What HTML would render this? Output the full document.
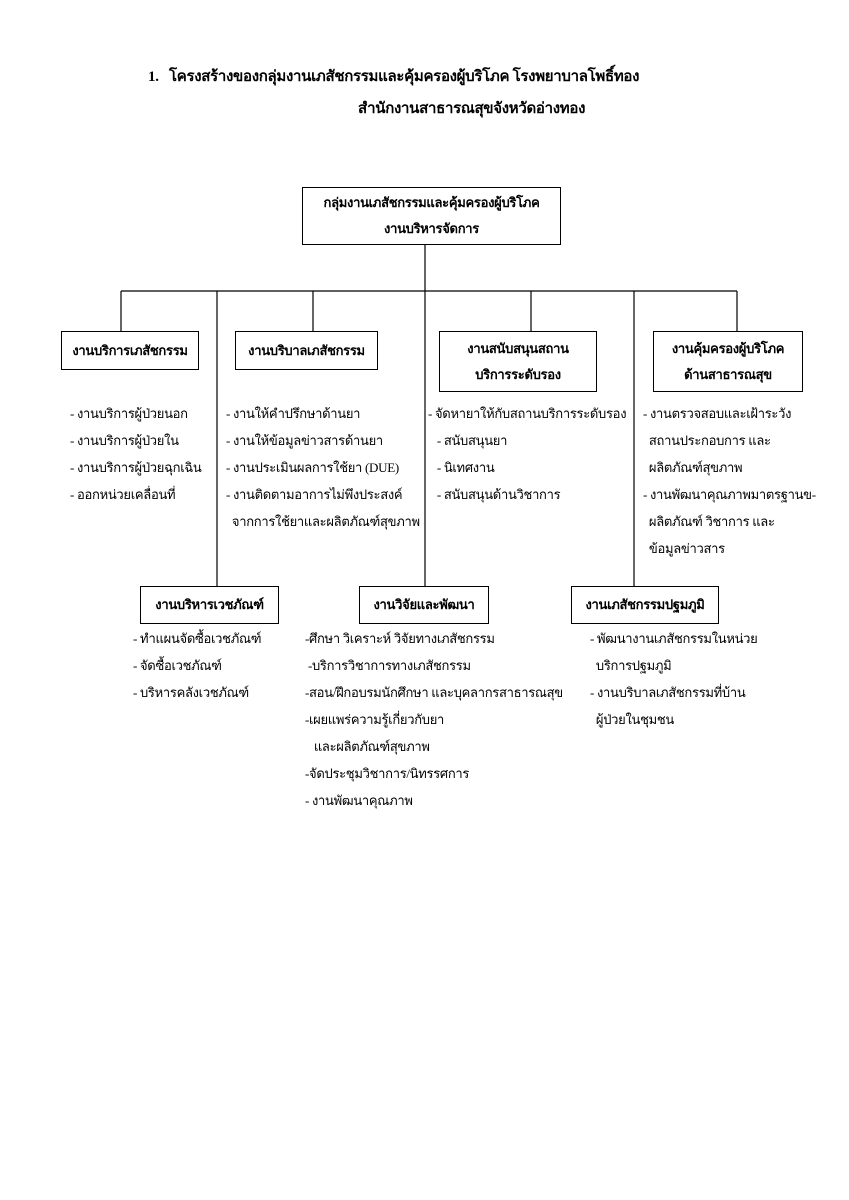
<!DOCTYPE html>
<html><head><meta charset="utf-8"><style>
body{margin:0;width:849px;height:1200px;background:#fff;position:relative;font-family:"Liberation Serif",serif;color:#000;overflow:hidden}
.t{position:absolute;font-size:13px;white-space:nowrap;line-height:27px;letter-spacing:-0.3px}
.b{position:absolute;border:1.5px solid #000;box-sizing:border-box;display:flex;align-items:center;justify-content:center;text-align:center;font-weight:bold;font-size:13px;line-height:26px;letter-spacing:-0.3px}
.h{position:absolute;font-weight:bold;font-size:15px;white-space:nowrap;letter-spacing:-0.3px}
</style></head><body>
<svg width="849" height="1200" style="position:absolute;left:0;top:0" stroke="#000" stroke-width="1.2">
<line x1="425" y1="245" x2="425" y2="586"/>
<line x1="121" y1="291" x2="737" y2="291"/>
<line x1="121" y1="291" x2="121" y2="331"/>
<line x1="313" y1="291" x2="313" y2="331"/>
<line x1="531" y1="291" x2="531" y2="331"/>
<line x1="737" y1="291" x2="737" y2="331"/>
<line x1="217" y1="291" x2="217" y2="586"/>
<line x1="634" y1="291" x2="634" y2="586"/>
</svg>
<div class="h" style="left:148px;top:64px">1.&nbsp;&nbsp; โครงสร้างของกลุ่มงานเภสัชกรรมและคุ้มครองผู้บริโภค โรงพยาบาลโพธิ์ทอง</div>
<div class="h" style="left:358px;top:96px">สำนักงานสาธารณสุขจังหวัดอ่างทอง</div>
<div class="b" style="left:302px;top:187px;width:259px;height:58px">กลุ่มงานเภสัชกรรมและคุ้มครองผู้บริโภค<br>งานบริหารจัดการ</div>
<div class="b" style="left:61px;top:331px;width:138px;height:39px">งานบริการเภสัชกรรม</div>
<div class="b" style="left:235px;top:331px;width:143px;height:39px">งานบริบาลเภสัชกรรม</div>
<div class="b" style="left:439px;top:331px;width:158px;height:61px">งานสนับสนุนสถาน<br>บริการระดับรอง</div>
<div class="b" style="left:653px;top:331px;width:150px;height:61px">งานคุ้มครองผู้บริโภค<br>ด้านสาธารณสุข</div>
<div class="b" style="left:140px;top:586px;width:139px;height:38px">งานบริหารเวชภัณฑ์</div>
<div class="b" style="left:359px;top:586px;width:130px;height:38px">งานวิจัยและพัฒนา</div>
<div class="b" style="left:571px;top:586px;width:148px;height:38px">งานเภสัชกรรมปฐมภูมิ</div>
<div class="t" style="left:70px;top:400px">- งานบริการผู้ป่วยนอก<br>- งานบริการผู้ป่วยใน<br>- งานบริการผู้ป่วยฉุกเฉิน<br>- ออกหน่วยเคลื่อนที่</div>
<div class="t" style="left:226px;top:400px">- งานให้คำปรึกษาด้านยา<br>- งานให้ข้อมูลข่าวสารด้านยา<br>- งานประเมินผลการใช้ยา (DUE)<br>- งานติดตามอาการไม่พึงประสงค์<br>&nbsp;&nbsp;จากการใช้ยาและผลิตภัณฑ์สุขภาพ</div>
<div class="t" style="left:428px;top:400px">- จัดหายาให้กับสถานบริการระดับรอง<br>&nbsp;&nbsp;&nbsp;- สนับสนุนยา<br>&nbsp;&nbsp;&nbsp;- นิเทศงาน<br>&nbsp;&nbsp;&nbsp;- สนับสนุนด้านวิชาการ</div>
<div class="t" style="left:643px;top:400px">- งานตรวจสอบและเฝ้าระวัง<br>&nbsp;&nbsp;สถานประกอบการ และ<br>&nbsp;&nbsp;ผลิตภัณฑ์สุขภาพ<br>- งานพัฒนาคุณภาพมาตรฐานข-<br>&nbsp;&nbsp;ผลิตภัณฑ์ วิชาการ และ<br>&nbsp;&nbsp;ข้อมูลข่าวสาร</div>
<div class="t" style="left:133px;top:625px">- ทำแผนจัดซื้อเวชภัณฑ์<br>- จัดซื้อเวชภัณฑ์<br>- บริหารคลังเวชภัณฑ์</div>
<div class="t" style="left:305px;top:625px">-ศึกษา วิเคราะห์ วิจัยทางเภสัชกรรม<br>&nbsp;-บริการวิชาการทางเภสัชกรรม<br>-สอน/ฝึกอบรมนักศึกษา และบุคลากรสาธารณสุข<br>-เผยแพร่ความรู้เกี่ยวกับยา<br>&nbsp;&nbsp;&nbsp;และผลิตภัณฑ์สุขภาพ<br>-จัดประชุมวิชาการ/นิทรรศการ<br>- งานพัฒนาคุณภาพ</div>
<div class="t" style="left:590px;top:625px">- พัฒนางานเภสัชกรรมในหน่วย<br>&nbsp;&nbsp;บริการปฐมภูมิ<br>- งานบริบาลเภสัชกรรมที่บ้าน<br>&nbsp;&nbsp;ผู้ป่วยในชุมชน</div>
</body></html>
